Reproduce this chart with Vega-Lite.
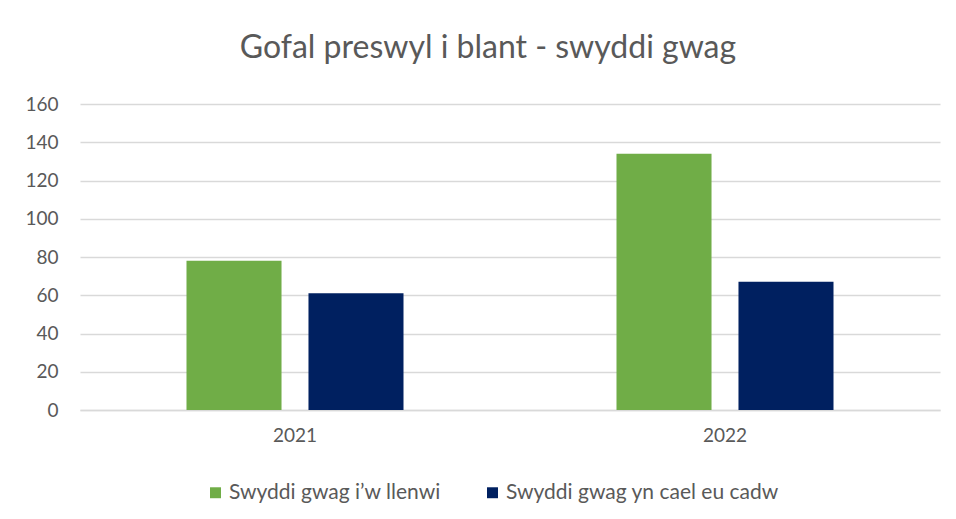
{
  "$schema": "https://vega.github.io/schema/vega-lite/v6.json",
  "autosize": {"type": "none"},
  "width": 860,
  "height": 306,
  "padding": {"left": 80, "top": 104, "right": 16, "bottom": 109},
  "background": "white",
  "title": {
    "text": "Gofal preswyl i blant - swyddi gwag",
    "font": "Lato",
    "fontSize": 32,
    "fontWeight": "normal",
    "color": "#595959",
    "anchor": "middle",
    "offset": 30,
    "dx": -22
  },
  "data": {
    "values": [
      {"year": "2021", "series": "Swyddi gwag i’w llenwi", "value": 78},
      {"year": "2021", "series": "Swyddi gwag yn cael eu cadw", "value": 61},
      {"year": "2022", "series": "Swyddi gwag i’w llenwi", "value": 134},
      {"year": "2022", "series": "Swyddi gwag yn cael eu cadw", "value": 67}
    ]
  },
  "mark": {"type": "bar"},
  "encoding": {
    "x": {
      "field": "year",
      "type": "nominal",
      "scale": {"paddingInner": 0, "paddingOuter": 0},
      "axis": {
        "title": null,
        "labelAngle": 0,
        "ticks": false,
        "domainColor": "#d9d9d9",
        "domainWidth": 1.5,
        "labelFont": "Lato",
        "labelFontSize": 19,
        "labelColor": "#595959",
        "labelPadding": 16
      }
    },
    "xOffset": {
      "field": "series",
      "type": "nominal",
      "scale": {"paddingInner": 0.221, "paddingOuter": 0.873}
    },
    "y": {
      "field": "value",
      "type": "quantitative",
      "scale": {"domain": [0, 160]},
      "axis": {
        "title": null,
        "values": [0, 20, 40, 60, 80, 100, 120, 140, 160],
        "domain": false,
        "ticks": false,
        "gridColor": "#d9d9d9",
        "gridWidth": 1.5,
        "labelFont": "Lato",
        "labelFontSize": 19,
        "labelColor": "#595959",
        "labelPadding": 22
      }
    },
    "color": {
      "field": "series",
      "type": "nominal",
      "scale": {"range": ["#70AD47", "#002060"]},
      "legend": {
        "title": null,
        "orient": "none",
        "direction": "horizontal",
        "legendX": 125,
        "legendY": 378,
        "symbolType": "square",
        "symbolSize": 120,
        "symbolOpacity": 1,
        "labelFont": "Lato",
        "labelFontSize": 21,
        "labelColor": "#595959",
        "labelLimit": 0,
        "columnPadding": 41,
        "labelOffset": 3
      }
    }
  },
  "config": {"view": {"stroke": null}}
}
